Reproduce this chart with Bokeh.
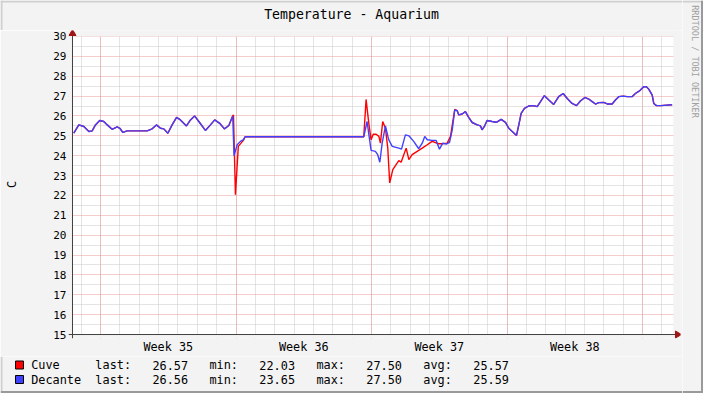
import math
from bokeh.plotting import figure
from bokeh.layouts import column, row
from bokeh.models import Range1d, FixedTicker, Grid
from bokeh.core.properties import value
from bokeh.embed import file_html
from bokeh.resources import INLINE

# ---------------- data (x in days since start of week 35) ----------------
common_start_days = [-1.38, -1.12, -0.86, -0.60, -0.43, -0.26, -0.04, 0.17, 0.35, 0.60,
                     0.86, 1.00, 1.15, 1.38, 1.90, 2.41, 2.67, 2.89, 3.10, 3.27,
                     3.48, 3.70, 3.93, 4.13, 4.44, 4.65, 4.86, 5.08, 5.42, 5.68,
                     5.90, 6.16, 6.40, 6.63, 6.83]
common_start_temps = [25.13, 25.55, 25.47, 25.22, 25.25, 25.55, 25.77, 25.72, 25.55, 25.33,
                      25.45, 25.38, 25.17, 25.25, 25.25, 25.25, 25.35, 25.55, 25.38, 25.35,
                      25.13, 25.55, 25.93, 25.80, 25.50, 25.80, 26.00, 25.72, 25.27, 25.55,
                      25.80, 25.63, 25.35, 25.52, 26.00]

cuve_drop_days = [6.87, 6.97, 7.12, 7.38, 7.47]
cuve_drop_temps = [26.05, 22.03, 24.47, 24.77, 24.95]
decante_drop_days = [6.90, 7.06, 7.23, 7.37, 7.47]
decante_drop_temps = [24.00, 24.55, 24.72, 24.80, 24.95]

cuve_mid_days = [13.60, 13.72, 13.86, 13.98, 14.09, 14.24, 14.38, 14.46, 14.58, 14.72,
                 14.84, 14.94, 15.10, 15.27, 15.41, 15.53, 15.79, 15.93, 16.10, 16.36,
                 16.62, 16.88, 17.13, 17.47, 17.68, 17.91, 18.08, 18.30]
cuve_mid_temps = [24.95, 26.83, 25.63, 24.80, 25.08, 25.08, 24.97, 24.63, 25.72, 25.38,
                  24.38, 22.63, 23.30, 23.55, 23.75, 23.67, 24.38, 23.80, 24.05, 24.22,
                  24.38, 24.55, 24.72, 24.60, 24.60, 24.63, 24.97, 26.33]

decante_mid_days = [13.60, 13.77, 13.89, 13.98, 14.20, 14.32, 14.43, 14.55, 14.72, 14.89,
                    15.07, 15.41, 15.55, 15.75, 15.93, 16.18, 16.44, 16.62, 16.75, 16.88,
                    17.13, 17.34, 17.51, 17.68, 17.86, 18.03, 18.17, 18.30]
decante_mid_temps = [24.95, 25.72, 24.88, 24.27, 24.22, 24.05, 23.67, 24.63, 25.50, 24.80,
                     24.47, 24.38, 24.33, 25.05, 25.00, 24.72, 24.35, 24.63, 24.97, 24.80,
                     24.77, 24.77, 24.33, 24.63, 24.58, 24.67, 25.30, 26.30]

common_end_days = [18.42, 18.51, 18.68, 18.85, 19.02, 19.20, 19.46, 19.63, 19.71, 19.83,
                   19.97, 20.23, 20.45, 20.70, 20.92, 21.09, 21.27, 21.49, 21.61, 21.73,
                   21.90, 22.12, 22.38, 22.56, 22.73, 22.93, 23.16, 23.41, 23.67, 23.90,
                   24.11, 24.36, 24.59, 24.79, 25.02, 25.22, 25.40, 25.57, 25.74, 26.00,
                   26.20, 26.43, 26.60, 26.77, 27.00, 27.21, 27.46, 27.63, 27.78, 27.89,
                   28.06, 28.20, 28.32, 28.50, 28.58, 28.72, 28.93, 29.53]
common_end_temps = [26.27, 26.05, 26.10, 26.22, 25.93, 25.67, 25.55, 25.50, 25.30, 25.47,
                    25.77, 25.72, 25.68, 25.83, 25.68, 25.38, 25.22, 25.02, 25.55, 26.13,
                    26.38, 26.50, 26.52, 26.47, 26.72, 27.02, 26.80, 26.58, 26.97, 27.13,
                    26.88, 26.63, 26.52, 26.75, 26.93, 26.85, 26.72, 26.60, 26.67, 26.68,
                    26.60, 26.60, 26.80, 26.97, 27.00, 26.97, 26.97, 27.13, 27.22, 27.30,
                    27.47, 27.47, 27.35, 27.05, 26.63, 26.52, 26.52, 26.56]

week_centers = [3.5, 10.5, 17.5, 24.5]
week_labels = ["Week 35", "Week 36", "Week 37", "Week 38"]
week_lines = [0, 7, 14, 21, 28]
day_lines = list(range(-1, 30))
y_ticks = list(range(15, 31))
y_minor = [v + 0.5 for v in range(15, 30)]

title_text = "Temperature - Aquarium"
y_label = "C"
credit_text = "RRDTOOL / TOBI OETIKER"
series_names = ["Cuve", "Decante"]
series_colors = ["#ff0000", "#4040ff"]
last_vals = ["26.57", "26.56"]
min_vals = ["22.03", "23.65"]
max_vals = ["27.50", "27.50"]
avg_vals = ["25.57", "25.59"]

cuve_x = common_start_days + cuve_drop_days + cuve_mid_days + common_end_days
cuve_y = common_start_temps + cuve_drop_temps + cuve_mid_temps + common_end_temps
dec_x = common_start_days + decante_drop_days + decante_mid_days + common_end_days
dec_y = common_start_temps + decante_drop_temps + decante_mid_temps + common_end_temps

# ---------------- geometry ----------------
BG = "#f3f3f3"
SHADE_A = "#cfcfcf"
SHADE_B = "#9a9a9a"
MONO = "DejaVu Sans Mono"
W_LEFT = 682
W_RIGHT = 21
H_TOP = 30
H_MAIN = 326
H_LEG = 37
H_ALL = H_TOP + H_MAIN + H_LEG
PX_PER_DAY = 19.36
PX_PER_DEG = 20.0
AREA_X0, AREA_X1 = -1.446, 29.60
AREA_Y0, AREA_Y1 = 15.0, 30.0
FX0 = AREA_X0 - 4 / PX_PER_DAY
FX1 = AREA_X1 + 7 / PX_PER_DAY
FY0 = AREA_Y0 - 4 / PX_PER_DEG
FY1 = AREA_Y1 + 6 / PX_PER_DEG


def strip(width, height):
    f = figure(width=width, height=height, output_backend="svg", toolbar_location=None,
               x_range=Range1d(0, width), y_range=Range1d(height, 0),
               x_axis_type=None, y_axis_type=None, min_border=0,
               background_fill_color=BG, border_fill_color=BG, outline_line_color=None)
    f.frame_align = False
    f.grid.visible = False
    return f


# ---------------- title strip ----------------
t = strip(W_LEFT, H_TOP)
t.quad(left=[0, 0], right=[W_LEFT, 2], top=[0, 0], bottom=[2, H_TOP],
       fill_color=SHADE_A, line_color=None)
t.text(x=[351], y=[14], text=[title_text], text_font=value(MONO),
       text_font_size=value("13.2px"), text_align="center", text_baseline="middle",
       text_color="black")

# ---------------- main plot ----------------
p = figure(width=W_LEFT, height=H_MAIN, output_backend="svg", toolbar_location=None,
           title=None,
           x_range=Range1d(FX0, FX1), y_range=Range1d(FY0, FY1),
           min_border_left=68, min_border_right=2, min_border_top=0, min_border_bottom=16,
           background_fill_color=BG, border_fill_color=BG, outline_line_color=None)
p.frame_align = False

p.quad(left=[AREA_X0], right=[AREA_X1], bottom=[AREA_Y0], top=[AREA_Y1],
       fill_color="white", line_color=None, level="image")

p.grid.visible = False
GREY = "#c8c8c8"
PINK = "#ea9a9a"
p.add_layout(Grid(dimension=0, ticker=FixedTicker(ticks=day_lines),
                  grid_line_color=GREY, grid_line_dash="1 1", grid_line_width=1))
p.add_layout(Grid(dimension=1, ticker=FixedTicker(ticks=y_minor),
                  grid_line_color=GREY, grid_line_dash="1 1", grid_line_width=1))
p.add_layout(Grid(dimension=0, ticker=FixedTicker(ticks=week_lines),
                  grid_line_color=PINK, grid_line_dash="1 1", grid_line_width=1))
p.add_layout(Grid(dimension=1, ticker=FixedTicker(ticks=y_ticks),
                  grid_line_color=PINK, grid_line_dash="1 1", grid_line_width=1))

p.quad(left=[FX0, FX0, AREA_X1, FX0], right=[FX1, FX1, FX1, AREA_X0],
       bottom=[AREA_Y1, FY0, FY0, FY0], top=[FY1, AREA_Y0, FY1, FY1],
       fill_color=BG, line_color=None)

p.xaxis.ticker = FixedTicker(ticks=week_centers)
p.xaxis.major_label_overrides = {c: l for c, l in zip(week_centers, week_labels)}
p.yaxis.ticker = FixedTicker(ticks=y_ticks)
for ax in (p.xaxis, p.yaxis):
    ax.axis_line_color = None
    ax.major_tick_line_color = None
    ax.minor_tick_line_color = None
    ax.major_tick_out = 0
    ax.major_label_text_font = MONO
    ax.major_label_text_color = "black"
p.xaxis.major_label_text_font_size = "11.8px"
p.xaxis.major_label_standoff = 1
p.yaxis.major_label_text_font_size = "11px"
p.yaxis.major_label_standoff = 2
p.yaxis.axis_label = y_label
p.yaxis.axis_label_text_font = MONO
p.yaxis.axis_label_text_font_size = "12px"
p.yaxis.axis_label_text_font_style = "normal"
p.yaxis.axis_label_text_color = "black"
p.yaxis.axis_label_standoff = 31

p.line(cuve_x, cuve_y, line_color=series_colors[0], line_width=1.4)
p.line(dec_x, dec_y, line_color=series_colors[1], line_width=1.4)

AX = "#404040"
AR = "#a01414"
p.segment(x0=[FX0, AREA_X0], y0=[AREA_Y0, FY0], x1=[AREA_X1 + 4 / PX_PER_DAY, AREA_X0],
          y1=[AREA_Y0, AREA_Y1 + 3 / PX_PER_DEG], line_color=AX, line_width=1)
p.scatter(x=[AREA_X1 + 4 / PX_PER_DAY], y=[AREA_Y0], marker="triangle", size=7,
          angle=-math.pi / 2, fill_color=AR, line_color=AR)
p.scatter(x=[AREA_X0], y=[AREA_Y1 + 3 / PX_PER_DEG], marker="triangle", size=7,
          fill_color=AR, line_color=AR)

# ---------------- legend strip ----------------
q = strip(W_LEFT, H_LEG)
CW = 7.13
X0 = 30.7
rows_y = [8.5, 23.0]
q.rect(x=[19, 19], y=rows_y, width=8, height=8, fill_color=series_colors,
       line_color="black", line_width=1)
tx, ty, tt = [], [], []
for i in range(2):
    tokens = [(0, series_names[i]), (9, "last:"), (17, last_vals[i]), (25, "min:"),
              (32, min_vals[i]), (40, "max:"), (47, max_vals[i]), (55, "avg:"),
              (62, avg_vals[i])]
    for col, tok in tokens:
        tx.append(X0 + col * CW)
        ty.append(rows_y[i])
        tt.append(tok)
q.text(x=tx, y=ty, text=tt, text_font=value(MONO), text_font_size=value("11.85px"),
       text_align="left", text_baseline="middle", text_color="black")
q.quad(left=[0, 0], right=[W_LEFT, 2], top=[H_LEG - 2.5, 0], bottom=[H_LEG, H_LEG - 2.5],
       fill_color=[SHADE_B, SHADE_A], line_color=None)

# ---------------- right strip with credit ----------------
r = strip(W_RIGHT, H_ALL)
r.quad(left=[0, W_RIGHT - 2.5, 0], right=[W_RIGHT, W_RIGHT, W_RIGHT], top=[0, 0, H_ALL - 2.5],
       bottom=[2, H_ALL, H_ALL], fill_color=[SHADE_A, SHADE_B, SHADE_B], line_color=None)
r.text(x=[12], y=[61], text=[credit_text], angle=-math.pi / 2, text_font=value(MONO),
       text_font_size=value("8.5px"), text_align="center", text_baseline="middle",
       text_color="#a0a0a0")

layout = row(column(t, p, q, spacing=0), r, spacing=0)
open("out.html", "w").write(file_html(layout, INLINE))
